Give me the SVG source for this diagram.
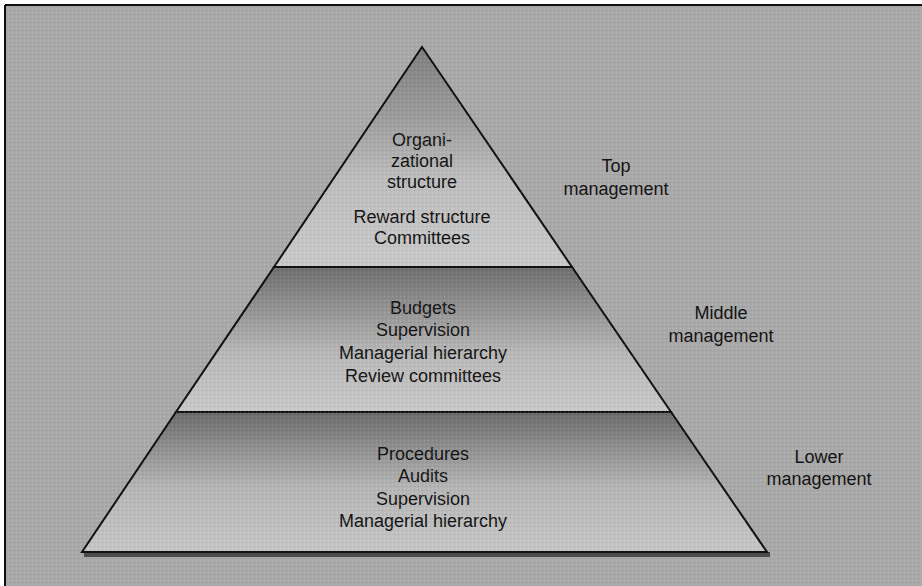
<svg xmlns="http://www.w3.org/2000/svg" width="922" height="586" viewBox="0 0 922 586">
<defs>
<linearGradient id="gTop" x1="0" y1="47" x2="0" y2="267" gradientUnits="userSpaceOnUse">
<stop offset="0" stop-color="#7e7e7e"/>
<stop offset="0.3" stop-color="#9a9a9a"/>
<stop offset="0.6" stop-color="#bdbdbd"/>
<stop offset="1" stop-color="#c9c9c9"/>
</linearGradient>
<linearGradient id="gMid" x1="0" y1="267" x2="0" y2="412" gradientUnits="userSpaceOnUse">
<stop offset="0" stop-color="#6e6e6e"/>
<stop offset="0.25" stop-color="#8e8e8e"/>
<stop offset="0.6" stop-color="#b8b8b8"/>
<stop offset="1" stop-color="#c9c9c9"/>
</linearGradient>
<linearGradient id="gBot" x1="0" y1="412" x2="0" y2="552" gradientUnits="userSpaceOnUse">
<stop offset="0" stop-color="#6b6b6b"/>
<stop offset="0.25" stop-color="#8e8e8e"/>
<stop offset="0.55" stop-color="#b6b6b6"/>
<stop offset="1" stop-color="#c6c6c6"/>
</linearGradient>
<pattern id="ht" width="4" height="4" patternUnits="userSpaceOnUse">
<rect x="0" y="0" width="1" height="1" fill="#ffffff" fill-opacity="0.18"/>
<rect x="2" y="2" width="1" height="1" fill="#000000" fill-opacity="0.12"/>
</pattern>
</defs>
<style>
.tier{stroke:#111;stroke-width:2;stroke-linejoin:miter}
.t{font-family:"Liberation Sans",Arial,sans-serif;font-size:18px;fill:#141414;text-anchor:middle}
</style>
<rect x="0" y="0" width="922" height="586" fill="#ffffff"/>
<rect x="5" y="5" width="917" height="581" fill="#a9a9a9"/>
<rect x="5" y="5" width="917" height="581" fill="url(#ht)"/>
<line x1="5" y1="5" x2="922" y2="5" stroke="#111" stroke-width="2"/>
<line x1="5" y1="5" x2="5" y2="586" stroke="#111" stroke-width="2"/>

<g id="bottom-tier">
<rect x="84" y="552" width="686" height="5" fill="#4a4a4a"/>
<polygon class="tier" points="176,412 671,412 767,552 82,552" fill="url(#gBot)"/>
<text class="t" x="423" y="460">Procedures</text>
<text class="t" x="423" y="482">Audits</text>
<text class="t" x="423" y="505">Supervision</text>
<text class="t" x="423" y="527">Managerial hierarchy</text>
</g>
<g id="middle-tier">
<polygon class="tier" points="274,267 572,267 671,412 176,412" fill="url(#gMid)"/>
<text class="t" x="423" y="314">Budgets</text>
<text class="t" x="423" y="336">Supervision</text>
<text class="t" x="423" y="359">Managerial hierarchy</text>
<text class="t" x="423" y="382">Review committees</text>
</g>
<g id="top-tier">
<polygon class="tier" points="422,47 572,267 274,267" fill="url(#gTop)"/>
<text class="t" x="422" y="146">Organi-</text>
<text class="t" x="422" y="167">zational</text>
<text class="t" x="422" y="188">structure</text>
<text class="t" x="422" y="223">Reward structure</text>
<text class="t" x="422" y="244">Committees</text>
</g>
<g id="pattern-overlay">
<polygon points="422,47 767,552 82,552" fill="url(#ht)"/>
</g>
<g id="level-labels">
<text class="t" x="616" y="172">Top</text>
<text class="t" x="616" y="195">management</text>
<text class="t" x="721" y="319">Middle</text>
<text class="t" x="721" y="342">management</text>
<text class="t" x="819" y="463">Lower</text>
<text class="t" x="819" y="485">management</text>
</g>
<g id="connectors"></g>
</svg>
